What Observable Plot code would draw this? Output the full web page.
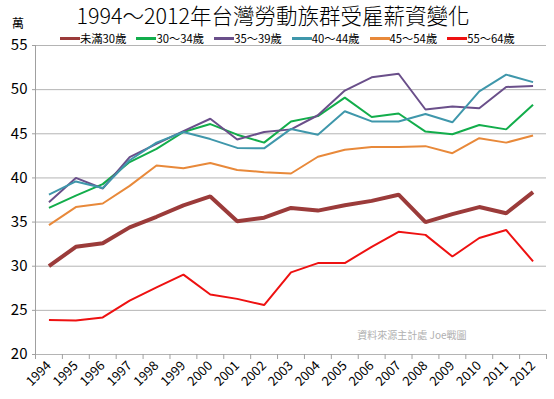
<!DOCTYPE html>
<html>
<head>
<meta charset="utf-8">
<script src="https://cdn.jsdelivr.net/npm/d3@7"></script>
<script src="https://cdn.jsdelivr.net/npm/@observablehq/plot@0.6"></script>
<style>
  html, body { margin: 0; padding: 0; background: #fff; }
  body { width: 554px; height: 399px; overflow: hidden; font-family: "Noto Sans CJK TC", "Noto Sans", sans-serif; }
  #wrap { position: relative; width: 554px; }
  #head { position: relative; height: 38px; }
  #title { position: absolute; left: 0; width: 546px; top: 3px; text-align: center; font-size: 21.5px; line-height: 24px; color: #000; font-weight: 300; white-space: nowrap; }
  #unit { position: absolute; left: 12px; top: 16px; font-size: 12px; line-height: 14px; color: #000; }
  #legend { position: absolute; left: 60px; top: 31px; display: flex; gap: 10px; font-size: 11.3px; line-height: 14px; color: #000; white-space: nowrap; }
  .item { display: flex; align-items: center; white-space: nowrap; }
  .sw { width: 20px; height: 3px; flex: none; }
  .lb { display: inline-block; }
  svg { display: block; overflow: visible; }
</style>
</head>
<body>
<div id="wrap">
  <div id="head">
    <div id="title">1994～2012年台灣勞動族群受雇薪資變化</div>
    <div id="unit">萬</div>
    <div id="legend"></div>
  </div>
  <div id="chart"></div>
</div>
<script>
const years = [1994,1995,1996,1997,1998,1999,2000,2001,2002,2003,2004,2005,2006,2007,2008,2009,2010,2011,2012];
const seriesNames = ["未滿30歲","30～34歲","35～39歲","40～44歲","45～54歲","55～64歲"];
const seriesColors = ["#9b3b3a","#12ad4b","#6a4f8a","#3f97ab","#e8893a","#ee1111"];
const seriesWidths = [4, 2, 2, 2, 2, 2];
const under30 = [30.0,32.2,32.6,34.4,35.6,36.9,37.9,35.1,35.5,36.6,36.3,36.9,37.4,38.1,35.0,35.9,36.7,36.0,38.4];
const age30_34 = [36.6,38.0,39.3,41.8,43.3,45.2,46.1,44.9,44.0,46.4,47.0,49.1,46.9,47.3,45.25,44.95,46.0,45.5,48.3];
const age35_39 = [37.25,40.0,38.8,42.35,43.85,45.3,46.7,44.35,45.2,45.5,47.1,49.9,51.4,51.8,47.75,48.1,47.9,50.3,50.4];
const age40_44 = [38.1,39.6,38.85,42.0,44.0,45.2,44.4,43.4,43.35,45.55,44.9,47.55,46.4,46.4,47.25,46.3,49.8,51.7,50.85];
const age45_54 = [34.65,36.7,37.1,39.1,41.4,41.1,41.7,40.9,40.65,40.5,42.4,43.2,43.5,43.5,43.6,42.8,44.5,44.0,44.8];
const age55_64 = [23.9,23.85,24.2,26.1,27.6,29.05,26.8,26.3,25.6,29.3,30.35,30.35,32.2,33.9,33.55,31.1,33.2,34.1,30.55];
const yTicks = [20,25,30,35,40,45,50,55];
const sourceNote = "資料來源主計處 Joe戰圖";

const allValues = [under30, age30_34, age35_39, age40_44, age45_54, age55_64];
const rows = [];
allValues.forEach((vals, si) => vals.forEach((v, i) => rows.push({series: seriesNames[si], year: years[i], value: v})));
const boundaries = d3.range(years[0] - 0.5, years[years.length - 1] + 1, 1);

// legend
const legend = document.getElementById("legend");
seriesNames.forEach((n, i) => {
  const it = document.createElement("div");
  it.className = "item";
  it.innerHTML = `<span class="sw" style="background:${seriesColors[i]}"></span><span class="lb">${n}</span>`;
  legend.appendChild(it);
});

const lineMarks = seriesNames.map((n, i) =>
  Plot.line(rows.filter(d => d.series === n), {x: "year", y: "value", stroke: seriesColors[i], strokeWidth: seriesWidths[i], strokeLinejoin: "miter", strokeLinecap: "butt"})
);

const chart = Plot.plot({
  width: 554,
  height: 361,
  marginLeft: 35,
  marginRight: 8,
  marginTop: 7,
  marginBottom: 45,
  style: {fontFamily: "'Noto Sans CJK TC', 'Noto Sans', sans-serif", background: "#fff", overflow: "visible"},
  x: {domain: [years[0] - 0.5, years[years.length - 1] + 0.5]},
  y: {domain: [20, 55]},
  marks: [
    Plot.gridY(yTicks, {stroke: "#b4b4b4", strokeOpacity: 1, strokeWidth: 1}),
    Plot.ruleX([years[0] - 0.5], {stroke: "#a0a0a0"}),
    Plot.axisY(yTicks, {tickSize: 3, tickPadding: 5, fontSize: 15, stroke: "#a0a0a0", color: "#000", label: null}),
    Plot.axisX(boundaries, {tickSize: 5, stroke: "#a0a0a0", tickFormat: () => "", label: null}),
    Plot.axisX(years, {tickSize: 0, tickPadding: 9, tickRotate: -45, fontSize: 13, tickFormat: d => String(d), label: null, color: "#000"}),
    ...lineMarks,
    Plot.text([sourceNote], {frameAnchor: "bottom-right", dx: -80, dy: -16, fontSize: 10, fill: "#b0b0b0", textAnchor: "end"})
  ]
});
document.getElementById("chart").appendChild(chart);
</script>
</body>
</html>
